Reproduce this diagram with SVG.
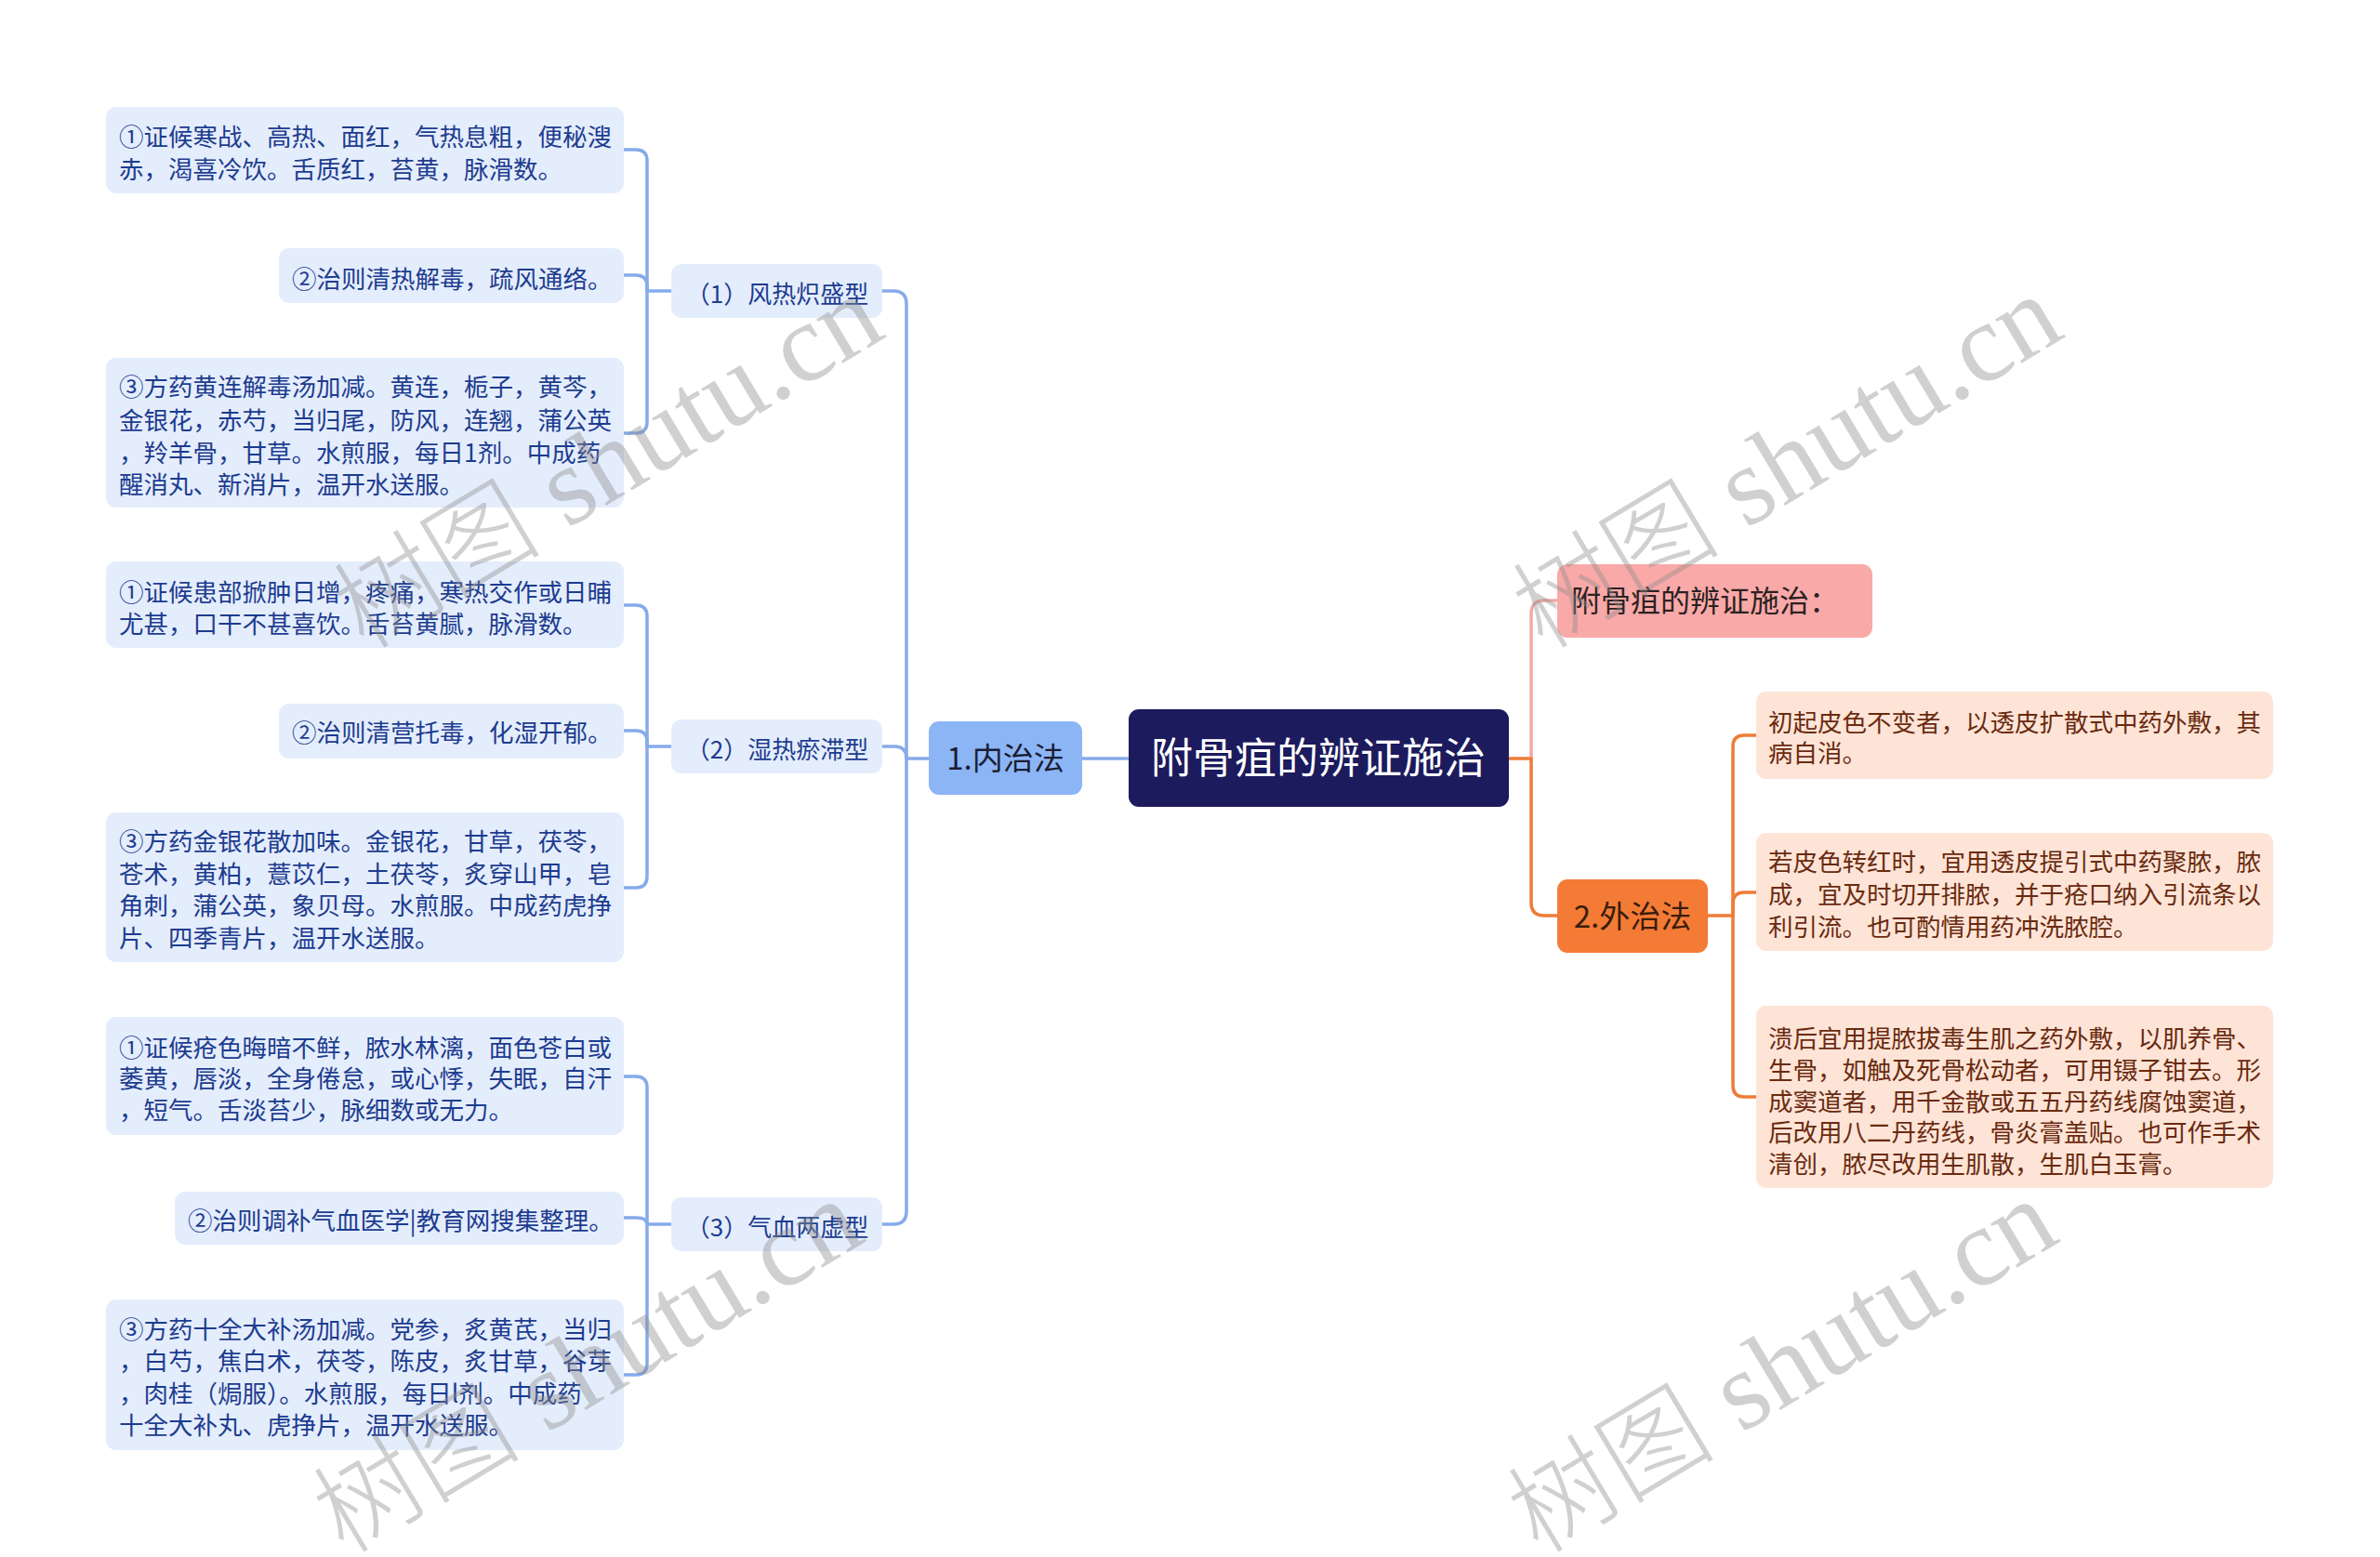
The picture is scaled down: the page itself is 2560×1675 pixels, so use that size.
<svg xmlns="http://www.w3.org/2000/svg" width="2560" height="1675" viewBox="0 0 2560 1675">
<style>
text{font-family:"Noto Sans CJK SC","Noto Sans",sans-serif;}
.lb{fill:#E4EDFC;}
.lt{font-size:26.5px;fill:#1d3c8f;}
.l2t{font-size:26px;fill:#1d3c8f;}
.pb{fill:#FDE4D6;}
.pt{font-size:26.5px;fill:#6a2a10;}
.cb{fill:none;stroke:#86ABEA;stroke-width:3.5;stroke-linecap:round;}
.co{fill:none;stroke:#EE7C37;stroke-width:3.5;stroke-linecap:round;}
.cp{fill:none;stroke:#F2A8A8;stroke-width:3.5;stroke-linecap:round;}
.wm{font-family:"Liberation Serif","Noto Sans CJK SC",serif;font-size:120px;fill:#8c8c8c;opacity:0.4;}
.wmc{font-weight:300;font-size:112px;}
</style>
<rect width="2560" height="1675" fill="#ffffff"/>

<g id="connectors">
  <path class="cb" d="M1213 816 H1164"/>
  <path class="cb" d="M999 816 H975"/>
  <path class="cb" d="M975 816 V327 Q975 313 961 313 H949"/>
  <path class="cb" d="M975 816 Q975 803 962 803 H949"/>
  <path class="cb" d="M975 816 V1303 Q975 1317 961 1317 H949"/>

  <path class="cb" d="M722 313 H696"/>
  <path class="cb" d="M696 313 V173 Q696 161 684 161 H671"/>
  <path class="cb" d="M696 313 V308 Q696 296 684 296 H671"/>
  <path class="cb" d="M696 313 V454 Q696 466 684 466 H671"/>

  <path class="cb" d="M722 803 H696"/>
  <path class="cb" d="M696 803 V663 Q696 651 684 651 H671"/>
  <path class="cb" d="M696 803 V798 Q696 786 684 786 H671"/>
  <path class="cb" d="M696 803 V943 Q696 955 684 955 H671"/>

  <path class="cb" d="M722 1317 H696"/>
  <path class="cb" d="M696 1317 V1170 Q696 1158 684 1158 H671"/>
  <path class="cb" d="M696 1317 Q696 1310 684 1310 H671"/>
  <path class="cb" d="M696 1317 V1467 Q696 1479 684 1479 H671"/>

  <path class="co" d="M1624 816 H1647"/>
  <path class="cp" d="M1647 816 V660 Q1647 646 1661 646 H1675"/>
  <path class="co" d="M1647 816 V971 Q1647 985 1661 985 H1675"/>

  <path class="co" d="M1837 985 H1864"/>
  <path class="co" d="M1864 985 V803 Q1864 791 1876 791 H1889"/>
  <path class="co" d="M1864 985 V972 Q1864 960 1876 960 H1889"/>
  <path class="co" d="M1864 985 V1168 Q1864 1180 1876 1180 H1889"/>
</g>

<g id="root">
  <rect x="1214" y="763" width="409" height="105" rx="11" fill="#1C1B5D"/>
  <text x="1418" y="832" font-size="45" fill="#ffffff" text-anchor="middle">附骨疽的辨证施治</text>
</g>

<g id="n-internal">
  <rect x="999" y="776" width="165" height="79" rx="11" fill="#8CB5F6"/>
  <text x="1081.5" y="828" font-size="33" fill="#1a1d33" text-anchor="middle">1.内治法</text>
</g>

<g id="n-type1">
  <rect x="722" y="284" width="227" height="58" rx="11" class="lb"/>
  <text x="836" y="326" class="l2t" text-anchor="middle">（1）风热炽盛型</text>
</g>
<g id="n-type2">
  <rect x="722" y="774" width="227" height="58" rx="11" class="lb"/>
  <text x="836" y="816" class="l2t" text-anchor="middle">（2）湿热瘀滞型</text>
</g>
<g id="n-type3">
  <rect x="722" y="1288" width="227" height="58" rx="11" class="lb"/>
  <text x="836" y="1330" class="l2t" text-anchor="middle">（3）气血两虚型</text>
</g>

<g id="t1-a">
  <rect x="114" y="115" width="557" height="93" rx="11" class="lb"/>
  <text class="lt"><tspan x="128" y="157">①证候寒战、高热、面红，气热息粗，便秘溲</tspan><tspan x="128" y="192">赤，渴喜冷饮。舌质红，苔黄，脉滑数。</tspan></text>
</g>
<g id="t1-b">
  <rect x="300" y="267" width="371" height="59" rx="11" class="lb"/>
  <text class="lt" x="314" y="310">②治则清热解毒，疏风通络。</text>
</g>
<g id="t1-c">
  <rect x="114" y="385" width="557" height="161" rx="11" class="lb"/>
  <text class="lt"><tspan x="128" y="426">③方药黄连解毒汤加减。黄连，栀子，黄芩，</tspan><tspan x="128" y="462">金银花，赤芍，当归尾，防风，连翘，蒲公英</tspan><tspan x="128" y="497">，羚羊骨，甘草。水煎服，每日1剂。中成药</tspan><tspan x="128" y="531">醒消丸、新消片，温开水送服。</tspan></text>
</g>

<g id="t2-a">
  <rect x="114" y="604" width="557" height="93" rx="11" class="lb"/>
  <text class="lt"><tspan x="128" y="647">①证候患部掀肿日增，疼痛，寒热交作或日晡</tspan><tspan x="128" y="681">尤甚，口干不甚喜饮。舌苔黄腻，脉滑数。</tspan></text>
</g>
<g id="t2-b">
  <rect x="300" y="757" width="371" height="59" rx="11" class="lb"/>
  <text class="lt" x="314" y="798">②治则清营托毒，化湿开郁。</text>
</g>
<g id="t2-c">
  <rect x="114" y="874" width="557" height="161" rx="11" class="lb"/>
  <text class="lt"><tspan x="128" y="915">③方药金银花散加味。金银花，甘草，茯苓，</tspan><tspan x="128" y="950">苍术，黄柏，薏苡仁，土茯苓，炙穿山甲，皂</tspan><tspan x="128" y="984">角刺，蒲公英，象贝母。水煎服。中成药虎挣</tspan><tspan x="128" y="1019">片、四季青片，温开水送服。</tspan></text>
</g>

<g id="t3-a">
  <rect x="114" y="1094" width="557" height="127" rx="11" class="lb"/>
  <text class="lt"><tspan x="128" y="1137">①证候疮色晦暗不鲜，脓水林漓，面色苍白或</tspan><tspan x="128" y="1170">萎黄，唇淡，全身倦怠，或心悸，失眠，自汗</tspan><tspan x="128" y="1204">，短气。舌淡苔少，脉细数或无力。</tspan></text>
</g>
<g id="t3-b">
  <rect x="188" y="1282" width="483" height="57" rx="11" class="lb"/>
  <text class="lt" x="202" y="1323">②治则调补气血医学|教育网搜集整理。</text>
</g>
<g id="t3-c">
  <rect x="114" y="1398" width="557" height="162" rx="11" class="lb"/>
  <text class="lt"><tspan x="128" y="1440">③方药十全大补汤加减。党参，炙黄芪，当归</tspan><tspan x="128" y="1474">，白芍，焦白术，茯苓，陈皮，炙甘草，谷芽</tspan><tspan x="128" y="1509">，肉桂（焗服）。水煎服，每日l剂。中成药</tspan><tspan x="128" y="1543">十全大补丸、虎挣片，温开水送服。</tspan></text>
</g>

<g id="n-summary">
  <rect x="1675" y="607" width="339" height="79" rx="11" fill="#F9A9A8"/>
  <text x="1690" y="658" font-size="32" fill="#2c2222">附骨疽的辨证施治：</text>
</g>

<g id="n-external">
  <rect x="1675" y="946" width="162" height="79" rx="11" fill="#F47B35"/>
  <text x="1756" y="998" font-size="33" fill="#3a1c0c" text-anchor="middle">2.外治法</text>
</g>

<g id="e-a">
  <rect x="1889" y="744" width="556" height="94" rx="11" class="pb"/>
  <text class="pt"><tspan x="1902" y="787">初起皮色不变者，以透皮扩散式中药外敷，其</tspan><tspan x="1902" y="820">病自消。</tspan></text>
</g>
<g id="e-b">
  <rect x="1889" y="896" width="556" height="127" rx="11" class="pb"/>
  <text class="pt"><tspan x="1902" y="937">若皮色转红时，宜用透皮提引式中药聚脓，脓</tspan><tspan x="1902" y="972">成，宜及时切开排脓，并于疮口纳入引流条以</tspan><tspan x="1902" y="1007">利引流。也可酌情用药冲洗脓腔。</tspan></text>
</g>
<g id="e-c">
  <rect x="1889" y="1082" width="556" height="196" rx="11" class="pb"/>
  <text class="pt"><tspan x="1902" y="1127">溃后宜用提脓拔毒生肌之药外敷，以肌养骨、</tspan><tspan x="1902" y="1161">生骨，如触及死骨松动者，可用镊子钳去。形</tspan><tspan x="1902" y="1195">成窦道者，用千金散或五五丹药线腐蚀窦道，</tspan><tspan x="1902" y="1228">后改用八二丹药线，骨炎膏盖贴。也可作手术</tspan><tspan x="1902" y="1262">清创，脓尽改用生肌散，生肌白玉膏。</tspan></text>
</g>

<g id="watermarks">
  <text class="wm" transform="translate(392 700) rotate(-31)"><tspan class="wmc">树图</tspan> shutu.cn</text>
  <text class="wm" transform="translate(1660 700) rotate(-31)"><tspan class="wmc">树图</tspan> shutu.cn</text>
  <text class="wm" transform="translate(370 1673) rotate(-31)"><tspan class="wmc">树图</tspan> shutu.cn</text>
  <text class="wm" transform="translate(1655 1673) rotate(-31)"><tspan class="wmc">树图</tspan> shutu.cn</text>
</g>
</svg>
